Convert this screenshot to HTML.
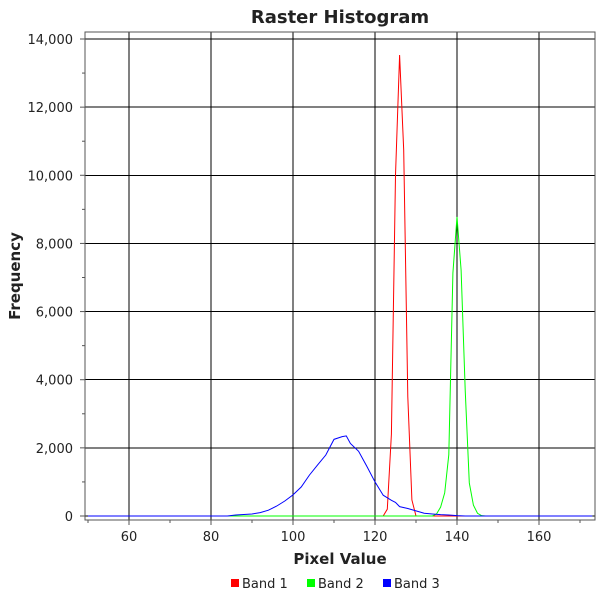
<!DOCTYPE html>
<html><head><meta charset="utf-8"><style>
body{margin:0;background:#fff;}
svg{font-family:"DejaVu Sans","Liberation Sans",sans-serif;}
</style></head><body>
<svg id="c" width="600" height="600" xmlns="http://www.w3.org/2000/svg">
<text x="340" y="23" text-anchor="middle" font-size="18" font-weight="bold" fill="#222">Raster Histogram</text>
<text x="340" y="564" text-anchor="middle" font-size="15" font-weight="bold" fill="#222">Pixel Value</text>
<text x="20" y="276" text-anchor="middle" font-size="15" font-weight="bold" fill="#222" transform="rotate(-90 20 276)">Frequency</text>
<g id="grid" shape-rendering="crispEdges"></g><g id="series"></g><g id="axes"></g>
<g font-size="13" fill="#222">
<g><rect x="231" y="579" width="8" height="8" fill="#f00"/><text x="242" y="588">Band 1</text></g>
<g><rect x="307" y="579" width="8" height="8" fill="#0f0"/><text x="318" y="588">Band 2</text></g>
<g><rect x="383" y="579" width="8" height="8" fill="#00f"/><text x="394" y="588">Band 3</text></g>
</g>
</svg>
<script>
const xTicks=[60,80,100,120,140,160];
const yTicks=[0,2000,4000,6000,8000,10000,12000,14000];
const yTickLabels=["0","2,000","4,000","6,000","8,000","10,000","12,000","14,000"];
const band1X=[50,121,122,123,124,125,126,127,128,129,130,173];
const band1Y=[0,0,0,200,2400,10000,13530,10740,3500,470,0,0];
const band2X=[50,134,135,136,137,138,139,140,141,142,143,144,145,146,147,173];
const band2Y=[0,0,60,260,680,1800,7130,8780,7220,3700,970,320,80,10,0,0];
const band3X=[50,84,86,88,90,92,94,96,98,100,102,104,106,108,110,112,113,114,116,118,120,122,124,125,126,128,130,132,134,136,138,140,142,173];
const band3Y=[0,0,30,45,60,100,170,290,440,620,850,1200,1500,1790,2250,2330,2350,2130,1900,1460,1000,610,460,400,275,220,150,80,60,40,30,10,0,0];
const L=85,R=595,T=32,B=520;
const xs=v=>129+(v-60)*4.1;
const ys=v=>516-v*(477/14000);
const NS="http://www.w3.org/2000/svg";
function mk(t,a,p){const e=document.createElementNS(NS,t);for(const k in a)e.setAttribute(k,a[k]);p.appendChild(e);return e;}
const grid=document.getElementById('grid'),axes=document.getElementById('axes'),ser=document.getElementById('series');
const bg=mk('rect',{x:L,y:T,width:R-L,height:B-T,fill:'#fff'},grid);


xTicks.forEach(v=>{const l=mk('line',{x1:xs(v),x2:xs(v),y1:T,y2:B,stroke:'#000','stroke-width':1},grid);


const t=mk('text',{x:xs(v),y:B+21,'text-anchor':'middle','font-size':13,fill:'#222'},axes);t.textContent=v;

});
for(let v=50;v<=170;v+=10){mk('line',{x1:xs(v),x2:xs(v),y1:B,y2:B+(v%20==0?5:3),stroke:'#555'},axes);}
yTicks.forEach((v,i)=>{const l=mk('line',{x1:L,x2:R,y1:ys(v),y2:ys(v),stroke:'#000','stroke-width':1},grid);


const t=mk('text',{x:73,y:ys(v)+5,'text-anchor':'end','font-size':13,fill:'#222'},axes);t.textContent=yTickLabels[i];

});
for(let v=0;v<=14000;v+=1000){mk('line',{x1:L-(v%2000==0?5:3),x2:L,y1:ys(v),y2:ys(v),stroke:'#555'},axes);}
const fr=mk('rect',{x:L,y:T,width:R-L,height:B-T,fill:'none',stroke:'#555'},axes);


[[band1X,band1Y,'#f00','band-1-line'],[band2X,band2Y,'#0f0','band-2-line'],[band3X,band3Y,'#00f','band-3-line']].forEach(([X,Y,c,n])=>{
const p=mk('polyline',{points:X.map((x,i)=>Math.min(Math.max(xs(x),L),R)+','+ys(Y[i])).join(' '),fill:'none',stroke:c,'stroke-width':1},ser);

});
</script>
</body></html>
